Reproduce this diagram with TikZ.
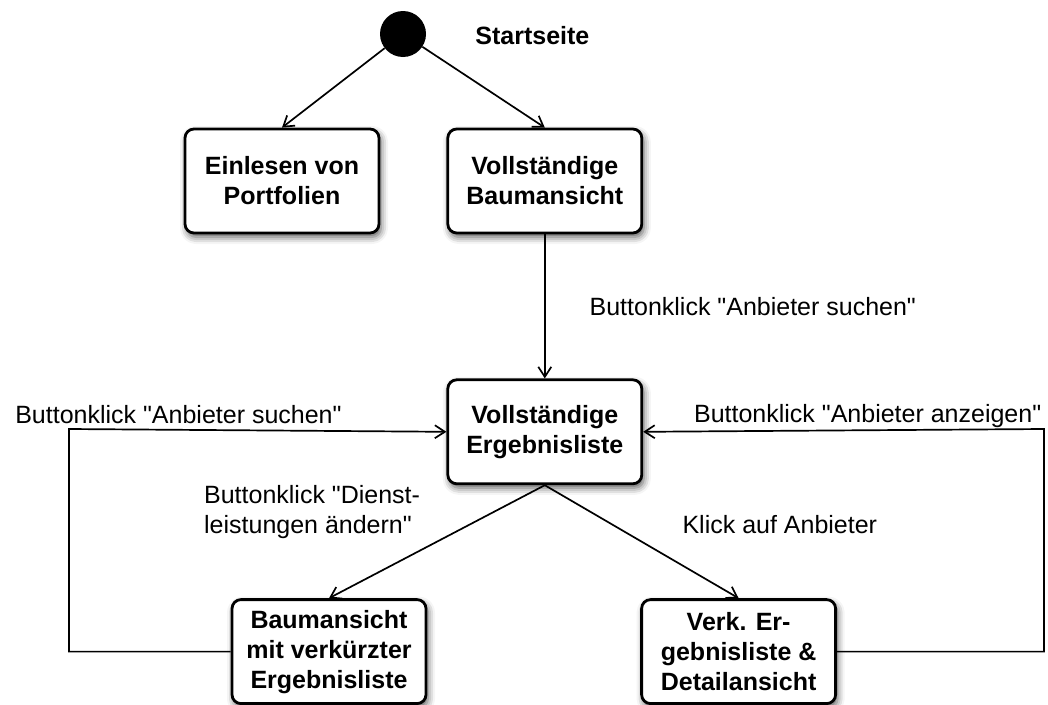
\documentclass[tikz,border=0pt]{standalone}
\usepackage{fontspec}
\setmainfont{Liberation Sans}[Ligatures=TeXOff]
\usetikzlibrary{positioning, arrows.meta, shadows.blur}

\begin{document}
\begin{tikzpicture}[x=1pt, y=-1pt]
\tikzstyle{state}=[rectangle, rounded corners=9pt, draw=black, line width=2.8pt, fill=white, minimum width=194pt, minimum height=104pt, align=center, font=\fontsize{25}{30}\selectfont\bfseries, blur shadow={shadow xshift=2pt, shadow yshift=-4pt, shadow blur radius=7pt, shadow opacity=65}]
\tikzstyle{connect}=[-{Straight Barb[length=10pt, width=13pt, line width=1.7pt]}, line width=1.7pt]
\tikzstyle{guard}=[font=\fontsize{25}{30}\selectfont, inner sep=2pt, align=left]
    \useasboundingbox (0,0) rectangle (1048,704);
    \node[circle, fill=black, minimum size=46pt, inner sep=0pt] (start) at (403,34) {};
    \node[font=\fontsize{25}{30}\selectfont\bfseries, inner sep=0pt, right=49pt of start, yshift=-2pt] (startname) {Startseite};
    \node[state] (einlesen) at (282,181) {Einlesen von\\Portfolien};
    \node[state] (baum) [right=66pt of einlesen] {Vollständige\\Baumansicht};
    \node[state] (ergebnis) [below=144pt of baum] {Vollständige\\Ergebnisliste};
    \node[state] (verkuerzt) [below left=115pt and 19pt of ergebnis, yshift=2pt] {Baumansicht\\mit verkürzter\\Ergebnisliste};
    \node[state] (detail) [below right=115pt and -3pt of ergebnis, yshift=2pt] {Verk. Er-\\gebnisliste \&\\Detailansicht};
    \coordinate (links) at (69,429);
    \coordinate (rechts) at (1044,429);
    \path (start) edge [connect] (einlesen.north)
          (start) edge [connect] (baum.north)
          (baum) edge [connect] node[guard, right=42pt] {Buttonklick "Anbieter suchen"} (ergebnis)
          (ergebnis.south) edge [connect] node[guard, above left, xshift=-14pt] {Buttonklick "Dienst-\\leistungen ändern"} (verkuerzt.north)
          (ergebnis.south) edge [connect] node[guard, above right, xshift=38pt, yshift=5pt] {Klick auf Anbieter} (detail.north);
    \draw[connect] (verkuerzt.west) -| (links) -- node[guard, above, pos=0.29, yshift=3pt] {Buttonklick "Anbieter suchen"} (ergebnis.west);
    \draw[connect] (detail.east) -| (rechts) -- node[guard, above, pos=0.44] {Buttonklick "Anbieter anzeigen"} (ergebnis.east);
\end{tikzpicture}
\end{document}
